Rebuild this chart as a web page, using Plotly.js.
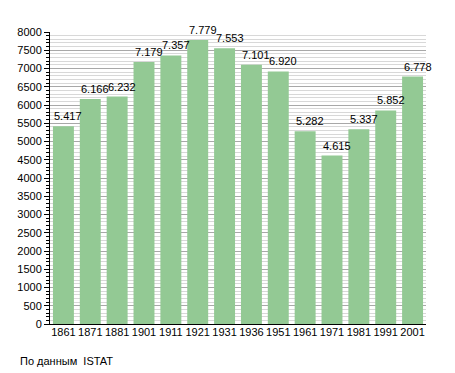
<!DOCTYPE html>
<html><head><meta charset="utf-8">
<script src="https://cdn.plot.ly/plotly-3.0.1.min.js"></script>
<style>body{margin:0;background:#fff}#c{width:455px;height:373px}</style>
</head><body><div id="c"></div>
<script>
const years = ["1861","1871","1881","1901","1911","1921","1931","1936","1951","1961","1971","1981","1991","2001"];
const population = [5417,6166,6232,7179,7357,7779,7553,7101,6920,5282,4615,5337,5852,6778];
const labels = ["5.417","6.166","6.232","7.179","7.357","7.779","7.553","7.101","6.920","5.282","4.615","5.337","5.852","6.778"];

const idx = years.map((_, i) => i);
const font = {family: "Liberation Sans, Arial, sans-serif", size: 11, color: "#000"};
const annotations = idx.map(i => ({
  x: i, y: population[i], xref: "x", yref: "y", text: labels[i],
  showarrow: false, xanchor: "left", yanchor: "bottom", xshift: -11, yshift: 2,
  font: {family: font.family, size: 11, color: "#000"}
}));
annotations.push({
  xref: "paper", yref: "paper", x: -0.085, y: -0.1, xanchor: "left", yanchor: "top",
  text: "По данным  ISTAT", showarrow: false, font: font
});

Plotly.newPlot("c", [{
  type: "bar", x: idx, y: population,
  marker: {color: "#93c994"}, hoverinfo: "none"
}], {
  width: 455, height: 373,
  margin: {l: 50, r: 29, t: 32, b: 49},
  paper_bgcolor: "#fff", plot_bgcolor: "#fff",
  bargap: 0.22,
  showlegend: false,
  font: font,
  xaxis: {range: [-0.5, 13.5], tickvals: idx, ticktext: years,
          showline: true, linecolor: "#000", linewidth: 1,
          ticks: "", ticklabelstandoff: -2, tickfont: font, showgrid: false, zeroline: false},
  yaxis: {range: [0, 8000], dtick: 500, showline: true, linecolor: "#000", linewidth: 1,
          ticks: "outside", ticklen: 5, tickcolor: "#000", tickfont: font,
          gridcolor: "#a8a8a8", gridwidth: 1, zeroline: false,
          minor: {dtick: 100, ticks: "outside", ticklen: 3, tickcolor: "#000",
                  showgrid: true, gridcolor: "#d8d8d8", gridwidth: 1}},
  annotations: annotations
}, {staticPlot: true});
</script></body></html>
